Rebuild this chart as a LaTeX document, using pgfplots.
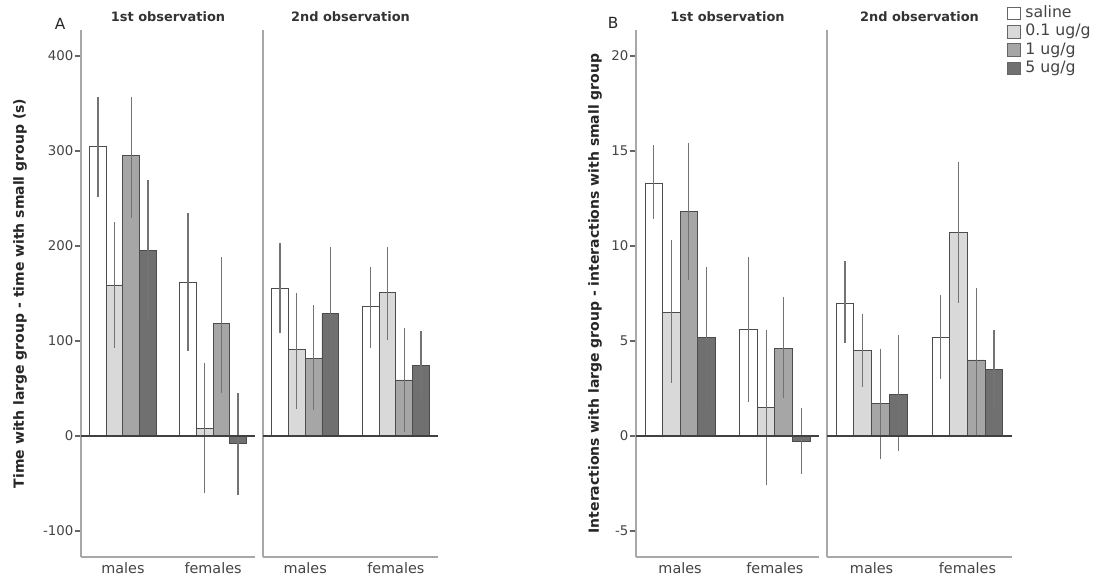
\documentclass[border=0pt]{standalone}
\usepackage{pgfplots}
\pgfplotsset{compat=1.18}
\usepackage{pgfplotstable}
\usepackage{fontspec}
\setmainfont{DejaVu Sans}

\definecolor{cA}{HTML}{FFFFFF}
\definecolor{cB}{HTML}{D9D9D9}
\definecolor{cC}{HTML}{A6A6A6}
\definecolor{cD}{HTML}{707070}
\definecolor{axgray}{HTML}{A8A8A8}
\definecolor{txt}{HTML}{444444}

% x: 0 = males, 1 = females; y = mean, l/h = error bar low/high
\pgfplotstableread{
x y1 l1 h1 y2 l2 h2 y3 l3 h3 y4 l4 h4
0 305 252 357 159 93 225 295 229 357 195 120 269
1 162 89 235 8 -60 77 118 45 188 -8 -62 45
}\dataAone
\pgfplotstableread{
x y1 l1 h1 y2 l2 h2 y3 l3 h3 y4 l4 h4
0 155 108 203 91 28 150 82 27 138 129 59 199
1 136 93 178 151 101 199 59 4 114 74 39 110
}\dataAtwo
\pgfplotstableread{
x y1 l1 h1 y2 l2 h2 y3 l3 h3 y4 l4 h4
0 13.3 11.4 15.3 6.5 2.8 10.3 11.8 8.2 15.4 5.2 1.5 8.9
1 5.6 1.8 9.4 1.5 -2.6 5.6 4.6 2.0 7.3 -0.3 -2.0 1.5
}\dataBone
\pgfplotstableread{
x y1 l1 h1 y2 l2 h2 y3 l3 h3 y4 l4 h4
0 7.0 4.9 9.2 4.5 2.6 6.4 1.7 -1.2 4.6 2.2 -0.8 5.3
1 5.2 3.0 7.4 10.7 7.0 14.4 4.0 0.05 7.8 3.5 1.5 5.6
}\dataBtwo

\tikzset{bars/.style={draw=black!70, line width=0.65pt, fill=#1}}

\pgfplotsset{
  panel/.style={
    scale only axis, height=395.25pt,
    axis x line=bottom, axis y line=left,
    axis line style={-, draw=axgray, line width=1.1pt},
    xmin=-0.465, xmax=1.465,
    xtick={0,1}, xticklabels={males,females},
    x tick style={draw=none},
    xticklabel style={font=\fontsize{10.8}{12}\selectfont, text=txt, yshift=3.5pt},
    ybar=0pt, bar width=0.185,
    clip=false,
    title style={font=\fontsize{9.7}{12}\selectfont\bfseries, text=black!80, at={(0.5,1)}, anchor=base, yshift=0pt},
    yticklabel style={font=\fontsize{10}{12}\selectfont, text=txt, inner sep=1pt},
    y tick style={draw=black!60, line width=0.8pt},
    tick align=outside, major tick length=4.5pt,
    /pgf/number format/assume math mode=true,
    ylabel style={font=\fontsize{10.5}{12}\selectfont\bfseries, text=black!85, anchor=center},
    error bars/y dir=both, error bars/y explicit, error bars/error mark=none,
    error bars/error bar style={draw=black!55, line width=0.9pt},
  },
  mysq/.style={legend image code/.code={\draw[##1, draw=black!60, line width=0.6pt] (0pt,-4.75pt) rectangle (9.5pt,4.75pt);}},
}

\newcommand\fourbars[1]{%
  \addplot[bars=cA] table[x=x, y=y1, y error plus expr=\thisrow{h1}-\thisrow{y1}, y error minus expr=\thisrow{y1}-\thisrow{l1}] {#1};
  \addplot[bars=cB] table[x=x, y=y2, y error plus expr=\thisrow{h2}-\thisrow{y2}, y error minus expr=\thisrow{y2}-\thisrow{l2}] {#1};
  \addplot[bars=cC] table[x=x, y=y3, y error plus expr=\thisrow{h3}-\thisrow{y3}, y error minus expr=\thisrow{y3}-\thisrow{l3}] {#1};
  \addplot[bars=cD] table[x=x, y=y4, y error plus expr=\thisrow{h4}-\thisrow{y4}, y error minus expr=\thisrow{y4}-\thisrow{l4}] {#1};
}

\begin{document}
\begin{tikzpicture}
\useasboundingbox (0,0) rectangle (828.75pt,435.75pt);

% Panel A, 1st observation
\begin{axis}[panel, at={(60.75pt,18pt)}, anchor=south west, width=130.5pt,
  ymin=-127.4, ymax=427.4, ytick={-100,0,100,200,300,400},
  title={1st observation},
  ylabel={Time with large group - time with small group (s)},
  ylabel style={at={(axis description cs:-0.35,0.5)}}]
\fourbars{\dataAone}
\draw[black!75, line width=0.9pt] (axis cs:-0.465,0) -- (axis cs:1.465,0);
\end{axis}

% Panel A, 2nd observation
\begin{axis}[panel, at={(197.25pt,18pt)}, anchor=south west, width=131.25pt,
  ymin=-127.4, ymax=427.4, ytick=\empty,
  title={2nd observation}]
\fourbars{\dataAtwo}
\draw[black!75, line width=0.9pt] (axis cs:-0.465,0) -- (axis cs:1.465,0);
\end{axis}

% Panel B, 1st observation
\begin{axis}[panel, at={(477pt,18pt)}, anchor=south west, width=137.25pt,
  ymin=-6.368, ymax=21.368, ytick={-5,0,5,10,15,20},
  title={1st observation},
  ylabel={Interactions with large group - interactions with small group},
  ylabel style={at={(axis description cs:-0.224,0.5)}}]
\fourbars{\dataBone}
\draw[black!75, line width=0.9pt] (axis cs:-0.465,0) -- (axis cs:1.465,0);
\end{axis}

% Panel B, 2nd observation
\begin{axis}[panel, at={(620.25pt,18pt)}, anchor=south west, width=138.75pt,
  ymin=-6.368, ymax=21.368, ytick=\empty,
  title={2nd observation},
  every axis plot post/.append style={mysq},
  legend style={at={(0.973,1.047)}, anchor=north west, draw=none, fill=none,
    font=\fontsize{11.8}{13.7}\selectfont, text=txt, inner sep=0pt, row sep=1.7pt,
    nodes={inner sep=0pt, text height=9pt, text depth=3pt},
    /tikz/every odd column/.append style={column sep=3.5pt}},
  legend cell align=left]
\fourbars{\dataBtwo}
\draw[black!75, line width=0.9pt] (axis cs:-0.465,0) -- (axis cs:1.465,0);
\legend{saline,0.1 ug/g,1 ug/g,5 ug/g}
\end{axis}

\node[font=\fontsize{11.5}{13}\selectfont, text=black!85, anchor=base] at (45pt,413.25pt) {A};
\node[font=\fontsize{11.5}{13}\selectfont, text=black!85, anchor=base] at (459.75pt,414pt) {B};
\end{tikzpicture}
\end{document}
